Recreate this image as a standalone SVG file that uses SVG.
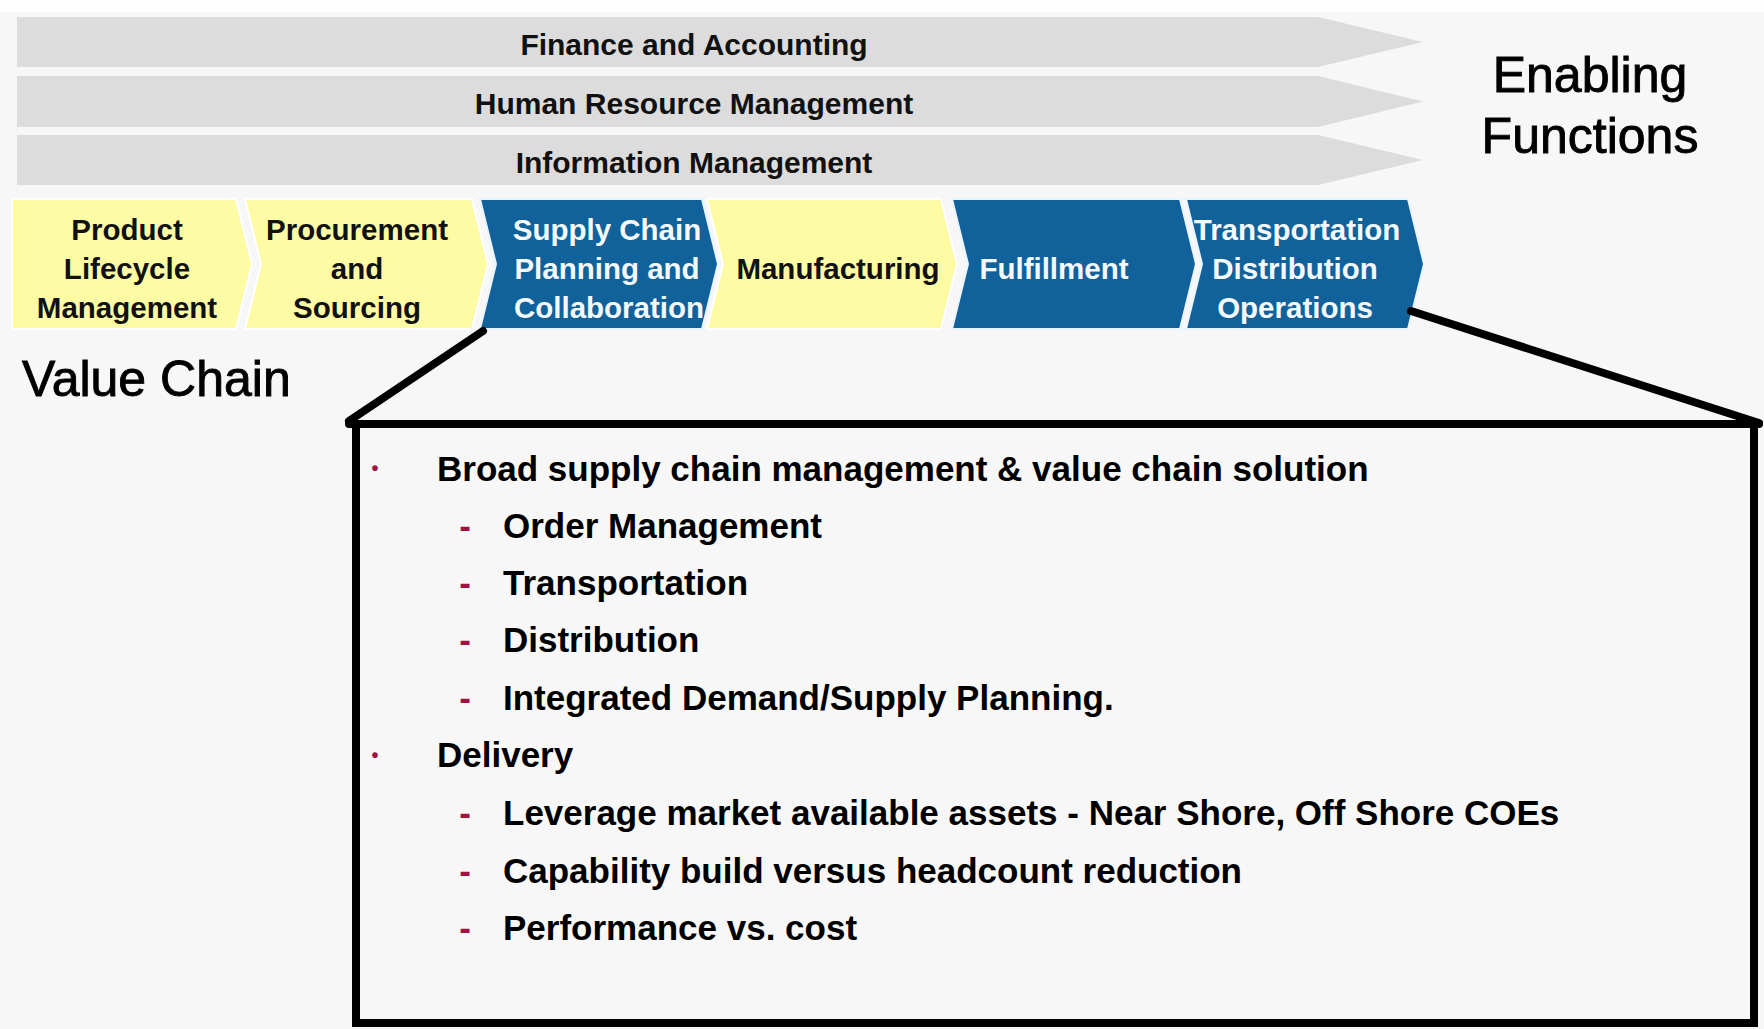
<svg xmlns="http://www.w3.org/2000/svg" width="1764" height="1029" viewBox="0 0 1764 1029">
  <style>
    .bar { fill: #dcdcdc; }
    .barText { font-family: "Liberation Sans", Arial, sans-serif; font-weight: bold; font-size: 30px; fill: #111; text-anchor: middle; }
    .yel { fill: #fdfba4; stroke: #ffffff; stroke-width: 2; }
    .blu { fill: #11629a; stroke: #e8f4ff; stroke-width: 2; }
    .chevText { font-family: "Liberation Sans", Arial, sans-serif; font-weight: bold; font-size: 29.5px; text-anchor: middle; }
    .dark { fill: #111; }
    .light { fill: #f4f9ff; }
    .big { font-family: "Liberation Sans", Arial, sans-serif; font-size: 50px; fill: #000; stroke: #000; stroke-width: 0.9; }
    .item { font-family: "Liberation Sans", Arial, sans-serif; font-weight: bold; font-size: 35px; fill: #000; }
    .mark { font-family: "Liberation Sans", Arial, sans-serif; font-weight: bold; fill: #a3123f; text-anchor: middle; }
    .thick { stroke: #000; stroke-width: 8; fill: none; stroke-linecap: round; stroke-linejoin: miter; }
  </style>
  <rect x="0" y="0" width="1764" height="1029" fill="#f7f7f7"/>
  <rect x="0" y="0" width="1764" height="12" fill="#fdfdfd"/>

  <!-- Enabling function bars -->
  <g id="bar-finance">
    <polygon class="bar" points="17,17 1318,17 1423,42 1318,67 17,67"/>
    <text class="barText" x="694" y="55">Finance and Accounting</text>
  </g>
  <g id="bar-hr">
    <polygon class="bar" points="17,76 1318,76 1423,101.5 1318,127 17,127"/>
    <text class="barText" x="694" y="114">Human Resource Management</text>
  </g>
  <g id="bar-im">
    <polygon class="bar" points="17,135 1318,135 1423,160 1318,185 17,185"/>
    <text class="barText" x="694" y="173">Information Management</text>
  </g>
  <g id="label-enabling">
    <text class="big" x="1590" y="92" text-anchor="middle">Enabling</text>
    <text class="big" x="1590" y="153" text-anchor="middle">Functions</text>
  </g>

  <!-- Value chain chevrons -->
  <g id="chev-plm">
    <polygon class="yel" points="12,199 236,199 252,264 236,329 12,329"/>
    <text class="chevText dark" x="127" y="240">Product</text>
    <text class="chevText dark" x="127" y="279">Lifecycle</text>
    <text class="chevText dark" x="127" y="318">Management</text>
  </g>
  <g id="chev-procurement">
    <polygon class="yel" points="245,199 472,199 488,264 472,329 245,329 261,264"/>
    <text class="chevText dark" x="357" y="240">Procurement</text>
    <text class="chevText dark" x="357" y="279">and</text>
    <text class="chevText dark" x="357" y="318">Sourcing</text>
  </g>
  <g id="chev-scp">
    <polygon class="blu" points="480,199 702,199 718,264 702,329 480,329 496,264"/>
    <text class="chevText light" x="607" y="240">Supply Chain</text>
    <text class="chevText light" x="607" y="279">Planning and</text>
    <text class="chevText light" x="609" y="318">Collaboration</text>
  </g>
  <g id="chev-manufacturing">
    <polygon class="yel" points="707,199 941,199 957,264 941,329 707,329 723,264"/>
    <text class="chevText dark" x="838" y="279">Manufacturing</text>
  </g>
  <g id="chev-fulfillment">
    <polygon class="blu" points="952,199 1180,199 1196,264 1180,329 952,329 968,264"/>
    <text class="chevText light" x="1054" y="279">Fulfillment</text>
  </g>
  <g id="chev-tdo">
    <polygon class="blu" points="1186,199 1408,199 1424,264 1408,329 1186,329 1202,264"/>
    <text class="chevText light" x="1297" y="240">Transportation</text>
    <text class="chevText light" x="1295" y="279">Distribution</text>
    <text class="chevText light" x="1295" y="318">Operations</text>
  </g>
  <g id="label-value-chain">
    <text class="big" x="22" y="396" font-size="49">Value Chain</text>
  </g>

  <!-- Connectors (callout lines) -->
  <g id="connectors">
    <line class="thick" x1="483" y1="331" x2="349" y2="421"/>
    <line class="thick" x1="1411" y1="311" x2="1759" y2="423"/>
  </g>

  <!-- Callout box -->
  <g id="callout-box">
    <path class="thick" d="M349,424 H1759" stroke-linecap="square"/>
    <path class="thick" d="M356,424 V1023 H1754 V424" stroke-linecap="butt"/>
    <text class="mark" x="375" y="475" font-size="20">•</text>
    <text class="item" x="437" y="481">Broad supply chain management &amp; value chain solution</text>
    <text class="mark" x="465" y="538" font-size="35">-</text>
    <text class="item" x="503" y="538">Order Management</text>
    <text class="mark" x="465" y="595" font-size="35">-</text>
    <text class="item" x="503" y="595">Transportation</text>
    <text class="mark" x="465" y="652" font-size="35">-</text>
    <text class="item" x="503" y="652">Distribution</text>
    <text class="mark" x="465" y="710" font-size="35">-</text>
    <text class="item" x="503" y="710">Integrated Demand/Supply Planning.</text>
    <text class="mark" x="375" y="762" font-size="20">•</text>
    <text class="item" x="437" y="767">Delivery</text>
    <text class="mark" x="465" y="825" font-size="35">-</text>
    <text class="item" x="503" y="825">Leverage market available assets - Near Shore, Off Shore COEs</text>
    <text class="mark" x="465" y="883" font-size="35">-</text>
    <text class="item" x="503" y="883">Capability build versus headcount reduction</text>
    <text class="mark" x="465" y="940" font-size="35">-</text>
    <text class="item" x="503" y="940">Performance vs. cost</text>
  </g>
</svg>
